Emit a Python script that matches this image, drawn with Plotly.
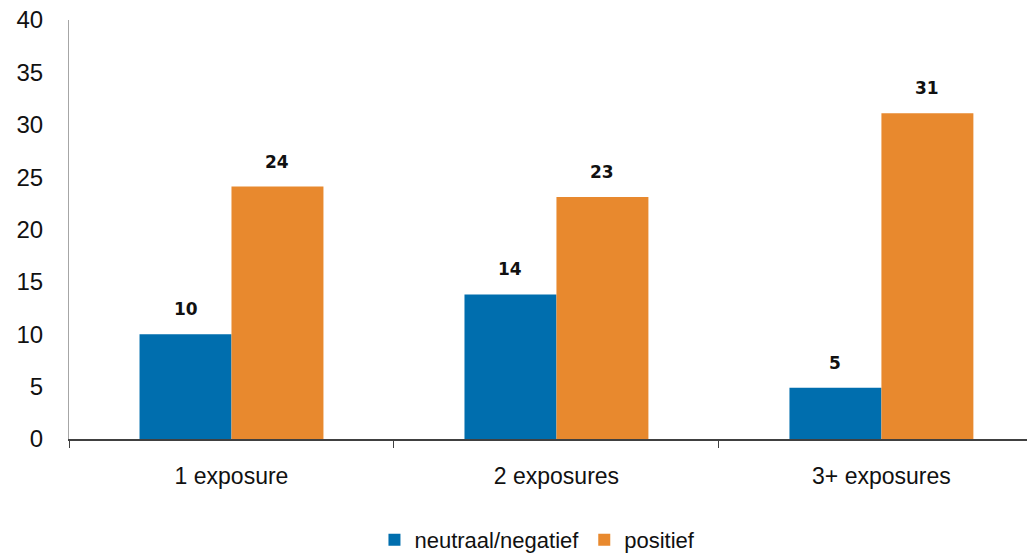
import plotly.graph_objects as go

categories = ["1 exposure", "2 exposures", "3+ exposures"]
neutraal = [10.0, 13.8, 4.9]
positief = [24.1, 23.1, 31.1]
series_names = ["neutraal/negatief", "positief"]
colors = ["#006EAE", "#E8892E"]
y_ticks = [0, 5, 10, 15, 20, 25, 30, 35, 40]

fig = go.Figure()
for name, vals, col in zip(series_names, [neutraal, positief], colors):
    fig.add_trace(go.Bar(x=categories, y=vals, name=name, marker_color=col,
                         marker_line_width=0))

bargap = 0.434
half = (1 - bargap) / 4
for s, vals in enumerate([neutraal, positief]):
    off = -half if s == 0 else half
    for i, v in enumerate(vals):
        fig.add_annotation(x=i + off, y=v, text=f"<b>{v:.0f}</b>", showarrow=False,
                           yanchor="bottom", yshift=13,
                           font=dict(family="DejaVu Sans", size=17, color="#111111"))

fig.update_layout(
    width=1027, height=555,
    margin=dict(l=69, r=0, t=20, b=116, autoexpand=False),
    paper_bgcolor="white", plot_bgcolor="white",
    barmode="group", bargap=bargap, bargroupgap=0,
    font=dict(family="Liberation Sans, Arial", color="#111111"),
    legend=dict(orientation="h", x=0.489, xanchor="center", yref="container",
                y=0.027, yanchor="middle",
                font=dict(size=22), itemwidth=30, traceorder="normal"),
    showlegend=True,
)
fig.update_xaxes(range=[-0.5, 2.448], showline=True, linecolor="#404040", linewidth=1.5,
                 ticks="outside", tickson="boundaries", ticklen=7, tickcolor="#404040",
                 ticklabelstandoff=16, automargin=False,
                 tickfont=dict(size=23), showgrid=False, zeroline=False)
fig.update_yaxes(range=[0, 40], tickvals=y_ticks, showline=True, linecolor="#A6A6A6",
                 linewidth=1, ticks="", ticklabelstandoff=20, tickfont=dict(size=24),
                 automargin=False, showgrid=False, zeroline=False)

fig.write_html("out.html")
